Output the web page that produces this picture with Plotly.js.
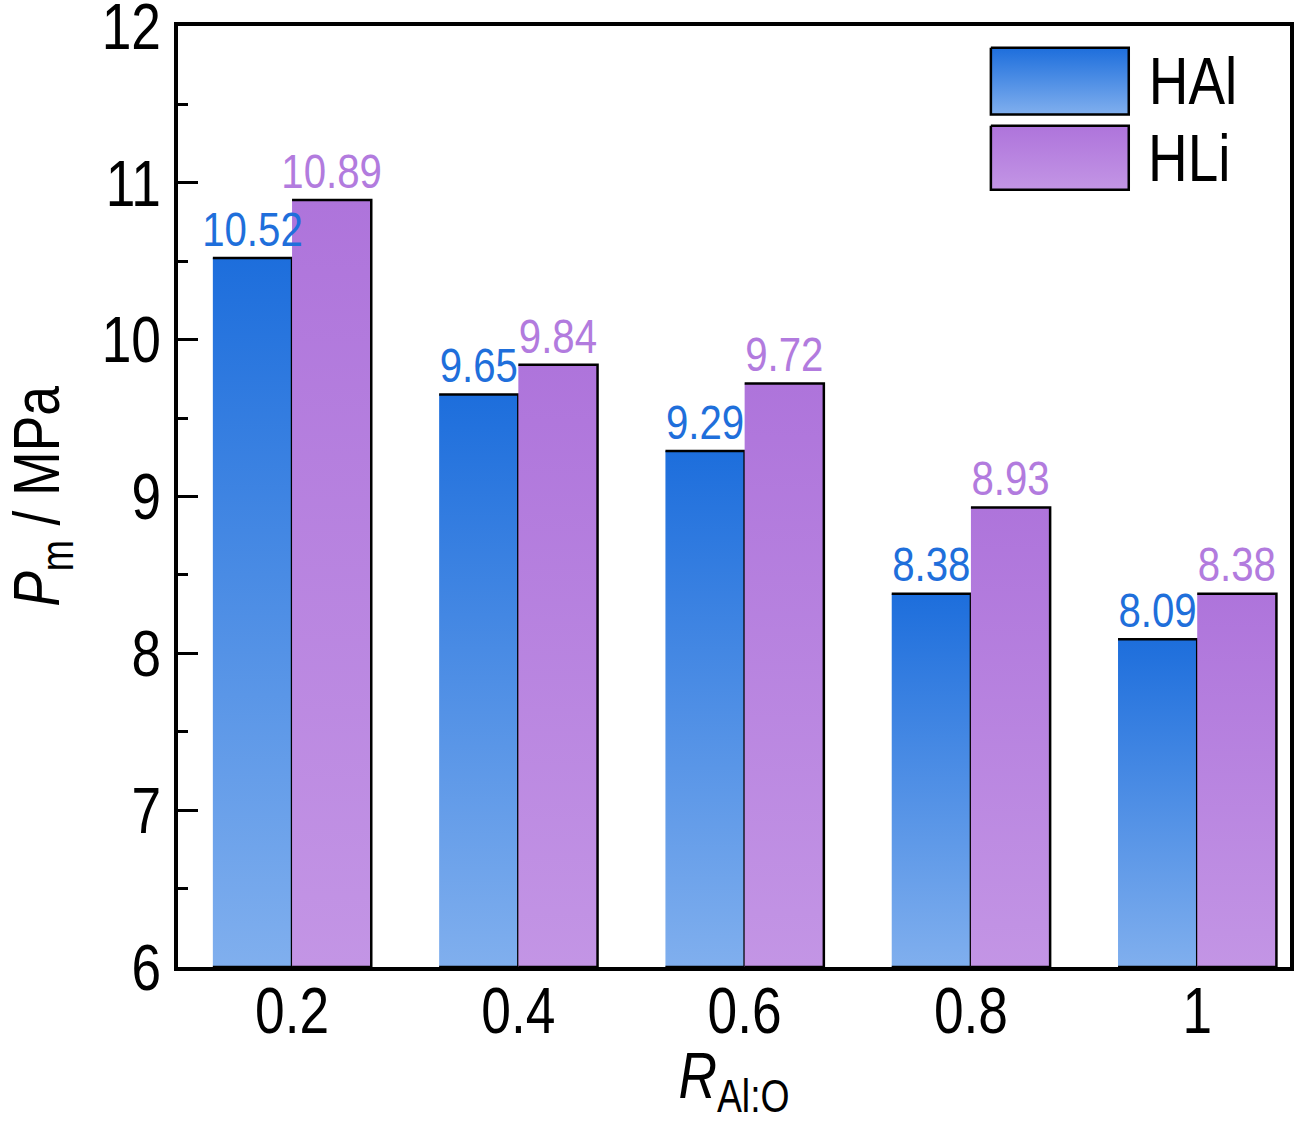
<!DOCTYPE html>
<html>
<head>
<meta charset="utf-8">
<script src="https://cdn.plot.ly/plotly-3.0.1.min.js"></script>
<style>
  html, body { margin: 0; padding: 0; background: #fff; }
  #chart { width: 1311px; height: 1122px; }
</style>
</head>
<body>
<div id="chart"></div>
<script>
// Data
const categories = ['0.2', '0.4', '0.6', '0.8', '1'];
const hAl = [10.52, 9.65, 9.29, 8.38, 8.09];
const hLi = [10.89, 9.84, 9.72, 8.93, 8.38];
const seriesNames = ['HAl', 'HLi'];
const yTicks = [6, 7, 8, 9, 10, 11, 12];

const FONT = 'Arial, "Liberation Sans", sans-serif';
const NARROW = 0.82; // the original uses a condensed Arial
const BASE = 6;
const BAR_W = 0.35;

const blueScale = [[0, '#80AFEE'], [1, '#1D6EDC']];
const purpleScale = [[0, '#C395E5'], [1, '#AE74DB']];
const labelColors = ['#1F6FDB', '#B27BDE'];

const traces = [];

// each bar is a filled polygon so it can carry its own vertical gradient
function addBar(xLeft, top, scale) {
    traces.push({
        type: 'scatter', mode: 'lines',
        x: [xLeft, xLeft + BAR_W, xLeft + BAR_W, xLeft],
        y: [top, top, BASE, BASE],
        fill: 'toself',
        fillgradient: { type: 'vertical', colorscale: scale },
        line: { color: '#000', width: 2.5 },
        hoverinfo: 'skip', showlegend: false
    });
}

categories.forEach((c, i) => {
    addBar(i - BAR_W, hAl[i], blueScale);
    addBar(i, hLi[i], purpleScale);
});

// value labels
[hAl, hLi].forEach((vals, s) => {
    traces.push({
        type: 'scatter', mode: 'text',
        x: categories.map((c, i) => s === 0 ? i - BAR_W / 2 : i + BAR_W / 2),
        y: vals,
        text: vals.map(v => v.toFixed(2)),
        textposition: 'top center',
        textfont: { family: FONT, size: 49, color: labelColors[s] },
        hoverinfo: 'skip', showlegend: false, cliponaxis: false
    });
});

// legend swatches on an overlaid 0..1 axis pair
const legendBoxes = [
    { y0: 0.906, y1: 0.977, scale: blueScale },
    { y0: 0.826, y1: 0.894, scale: purpleScale }
];
legendBoxes.forEach(b => {
    traces.push({
        type: 'scatter', mode: 'lines', xaxis: 'x2', yaxis: 'y2',
        x: [0.731, 0.855, 0.855, 0.731, 0.731],
        y: [b.y1, b.y1, b.y0, b.y0, b.y1],
        fill: 'toself',
        fillgradient: { type: 'vertical', colorscale: b.scale },
        line: { color: '#000', width: 2.5 },
        hoverinfo: 'skip', showlegend: false
    });
});

const layout = {
    width: 1311, height: 1122,
    margin: { l: 178, r: 21, t: 26, b: 155 },
    paper_bgcolor: '#fff', plot_bgcolor: '#fff',
    font: { family: FONT, color: '#000' },
    showlegend: false,
    xaxis: {
        range: [-0.504, 4.41],
        tickmode: 'array',
        tickvals: categories.map((c, i) => i),
        ticktext: categories,
        ticks: '',
        ticklabelstandoff: -16,
        tickfont: { size: 65 },
        showgrid: false, zeroline: false,
        showline: true, linecolor: '#000', linewidth: 4, mirror: true,
        title: { text: '<i>R</i><sub>Al:O</sub>', font: { size: 65 }, standoff: 18 }
    },
    yaxis: {
        range: [6, 12],
        tickmode: 'array',
        tickvals: yTicks,
        ticktext: yTicks.map(String),
        ticklabeloverflow: 'allow',
        ticks: 'inside', ticklen: 20, tickwidth: 3, tickcolor: '#000',
        minor: { dtick: 0.5, ticks: 'inside', ticklen: 10, tickwidth: 3, tickcolor: '#000', showgrid: false },
        tickfont: { size: 65 },
        showgrid: false, zeroline: false,
        showline: true, linecolor: '#000', linewidth: 4, mirror: true,
        title: { text: '<i>P</i><sub>m</sub> / MPa', font: { size: 65 }, standoff: 26 }
    },
    xaxis2: { overlaying: 'x', range: [0, 1], visible: false, fixedrange: true },
    yaxis2: { overlaying: 'y', range: [0, 1], visible: false, fixedrange: true },
    annotations: seriesNames.map((n, k) => ({
        xref: 'paper', yref: 'paper',
        x: 0.862, y: k === 0 ? 0.942 : 0.86,
        xanchor: 'left', yanchor: 'middle',
        text: n, showarrow: false,
        font: { family: FONT, size: 67, color: '#000' }
    }))
};

Plotly.newPlot('chart', traces, layout, { displayModeBar: false, staticPlot: true }).then(gd => {
    // squeeze every text horizontally to mimic the condensed face
    gd.querySelectorAll('text').forEach(t => {
        if (!t.textContent) return;
        const w = t.getComputedTextLength();
        t.setAttribute('textLength', (w * NARROW).toFixed(1));
        t.setAttribute('lengthAdjust', 'spacingAndGlyphs');
    });
});
</script>
</body>
</html>
